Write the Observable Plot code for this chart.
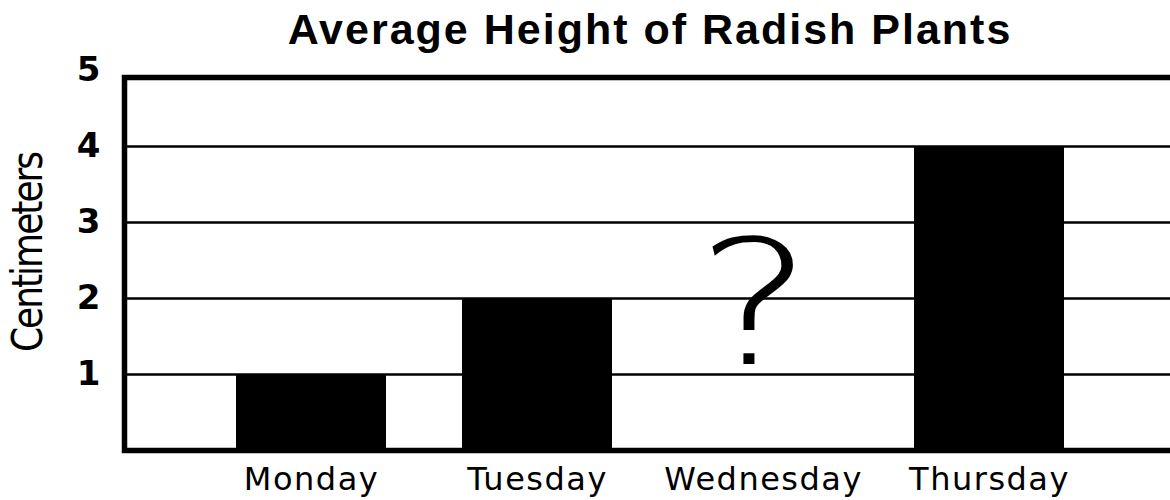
<!DOCTYPE html>
<html>
<head>
<meta charset="utf-8">
<script src="https://cdn.jsdelivr.net/npm/d3@7"></script>
<script src="https://cdn.jsdelivr.net/npm/@observablehq/plot@0.6"></script>
<style>
  html, body { margin: 0; padding: 0; background: #fff; overflow: hidden; width: 1170px; height: 500px; }
  #title {
    margin: 8px 0 0 0; height: 42px; line-height: 42px;
    font-family: "Liberation Sans", Arial, sans-serif; font-weight: bold; font-size: 43px;
    letter-spacing: 2px; text-align: center; padding-left: 130px; width: 1040px; color: #000;
    white-space: nowrap;
  }
  #chart { width: 1170px; overflow: hidden; }
  #chart svg { display: block; max-width: none !important; }
</style>
</head>
<body>
<div id="title">Average Height of Radish Plants</div>
<div id="chart"></div>
<script>
const days = ["Monday", "Tuesday", "Wednesday", "Thursday"];
const heights = [1, 2, null, 4];
const yTicks = [1, 2, 3, 4, 5];
const gridValues = [1, 2, 3, 4];
const unknownDay = ["Wednesday"];
const yLabel = "Centimeters";

const rows = days.map((d, i) => ({day: d, cm: heights[i]})).filter(r => r.cm != null);

const chart = Plot.plot({
  width: 1177,
  height: 450,
  marginLeft: 124,
  marginRight: 0,
  marginTop: 20,
  marginBottom: 50,
  style: {background: "#fff", color: "#000", maxWidth: "none"},
  x: {domain: days, paddingInner: 0.335, paddingOuter: 0.49},
  y: {domain: [0, 5]},
  marks: [
    Plot.gridY(gridValues, {stroke: "#000", strokeOpacity: 1, strokeWidth: 2.5}),
    Plot.barY(rows, {x: "day", y: "cm", fill: "#000"}),
    Plot.frame({stroke: "#000", strokeWidth: 5.5, insetTop: 7}),
    Plot.axisY(yTicks, {
      tickSize: 0, tickPadding: 24, label: null, tickFormat: d3.format("d"),
      fontSize: 34, fontWeight: "bold", fontFamily: "DejaVu Sans, sans-serif"
    }),
    Plot.axisX({
      tickSize: 0, tickPadding: 17, label: null,
      fontSize: 32, fontFamily: "DejaVu Sans, sans-serif"
    }),
    Plot.text(unknownDay, {
      x: d => d, text: () => "?", frameAnchor: "bottom", lineAnchor: "middle",
      dx: -9, dy: -142, fontSize: 173, fontWeight: 200, fontFamily: "DejaVu Sans, sans-serif"
    }),
    Plot.text([yLabel], {
      text: d => d, frameAnchor: "left", rotate: -90, textAnchor: "middle", lineAnchor: "middle",
      dx: -96, dy: -8, fontSize: 36, fontFamily: "DejaVu Sans, sans-serif"
    })
  ]
});
document.getElementById("chart").appendChild(chart);

const svg = d3.select(chart);
svg.selectAll("g[aria-label='x-axis tick label'] text").style("letter-spacing", "1.5px");
svg.selectAll("g[aria-label='text'] text").each(function() {
  const t = d3.select(this);
  const tr = t.attr("transform") || "";
  if (this.textContent === yLabel) {
    t.style("letter-spacing", "-2px").attr("transform", tr + " scale(1,1.18)");
  } else if (this.textContent === "?") {
    t.attr("transform", tr + " scale(1.28,1)");
  }
});
</script>
</body>
</html>
